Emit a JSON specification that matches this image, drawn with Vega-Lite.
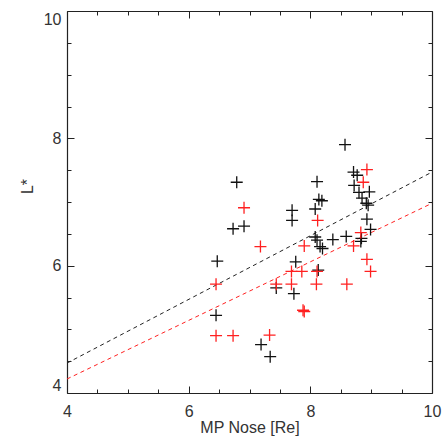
{
  "$schema": "https://vega.github.io/schema/vega-lite/v6.json",
  "autosize": {"type": "none"},
  "padding": {"left": 67, "top": 11, "right": 11, "bottom": 46},
  "width": 365,
  "height": 382,
  "background": "white",
  "config": {
    "view": {"stroke": null},
    "axis": {
      "grid": false,
      "domainColor": "#222",
      "domainWidth": 1.2,
      "tickColor": "#222",
      "tickWidth": 1,
      "labelFont": "Liberation Sans",
      "labelFontSize": 16,
      "labelColor": "#333",
      "titleFont": "Liberation Sans",
      "titleFontSize": 16,
      "titleFontWeight": "normal",
      "titleColor": "#333"
    }
  },
  "datasets": {
    "points": [
      {"nose": 6.79, "L": 7.31, "group": "B"},
      {"nose": 6.91, "L": 6.62, "group": "B"},
      {"nose": 6.73, "L": 6.58, "group": "B"},
      {"nose": 6.47, "L": 6.07, "group": "B"},
      {"nose": 6.45, "L": 5.22, "group": "B"},
      {"nose": 7.19, "L": 4.76, "group": "B"},
      {"nose": 7.34, "L": 4.57, "group": "B"},
      {"nose": 7.44, "L": 5.65, "group": "B"},
      {"nose": 7.73, "L": 5.56, "group": "B"},
      {"nose": 7.76, "L": 6.06, "group": "B"},
      {"nose": 7.70, "L": 6.87, "group": "B"},
      {"nose": 7.70, "L": 6.71, "group": "B"},
      {"nose": 8.11, "L": 7.32, "group": "B"},
      {"nose": 8.14, "L": 7.04, "group": "B"},
      {"nose": 8.19, "L": 7.02, "group": "B"},
      {"nose": 8.08, "L": 6.89, "group": "B"},
      {"nose": 8.08, "L": 6.45, "group": "B"},
      {"nose": 8.11, "L": 6.40, "group": "B"},
      {"nose": 8.16, "L": 6.30, "group": "B"},
      {"nose": 8.20, "L": 6.27, "group": "B"},
      {"nose": 8.13, "L": 5.93, "group": "B"},
      {"nose": 8.37, "L": 6.41, "group": "B"},
      {"nose": 8.59, "L": 6.46, "group": "B"},
      {"nose": 8.57, "L": 7.90, "group": "B"},
      {"nose": 8.71, "L": 7.47, "group": "B"},
      {"nose": 8.77, "L": 7.42, "group": "B"},
      {"nose": 8.72, "L": 7.26, "group": "B"},
      {"nose": 8.80, "L": 7.15, "group": "B"},
      {"nose": 8.97, "L": 7.16, "group": "B"},
      {"nose": 8.85, "L": 7.06, "group": "B"},
      {"nose": 8.92, "L": 6.98, "group": "B"},
      {"nose": 8.95, "L": 6.95, "group": "B"},
      {"nose": 8.93, "L": 6.73, "group": "B"},
      {"nose": 8.99, "L": 6.57, "group": "B"},
      {"nose": 8.84, "L": 6.43, "group": "B"},
      {"nose": 8.83, "L": 6.38, "group": "B"},
      {"nose": 6.91, "L": 6.91, "group": "R"},
      {"nose": 7.18, "L": 6.30, "group": "R"},
      {"nose": 6.45, "L": 5.71, "group": "R"},
      {"nose": 6.45, "L": 4.90, "group": "R"},
      {"nose": 6.73, "L": 4.90, "group": "R"},
      {"nose": 7.33, "L": 4.91, "group": "R"},
      {"nose": 7.44, "L": 5.71, "group": "R"},
      {"nose": 7.69, "L": 5.71, "group": "R"},
      {"nose": 7.69, "L": 5.91, "group": "R"},
      {"nose": 7.86, "L": 5.91, "group": "R"},
      {"nose": 7.88, "L": 5.30, "group": "R"},
      {"nose": 7.90, "L": 5.28, "group": "R"},
      {"nose": 7.90, "L": 6.31, "group": "R"},
      {"nose": 8.12, "L": 6.71, "group": "R"},
      {"nose": 8.11, "L": 5.91, "group": "R"},
      {"nose": 8.10, "L": 5.71, "group": "R"},
      {"nose": 8.60, "L": 5.71, "group": "R"},
      {"nose": 8.71, "L": 6.31, "group": "R"},
      {"nose": 8.83, "L": 6.52, "group": "R"},
      {"nose": 8.93, "L": 6.10, "group": "R"},
      {"nose": 8.99, "L": 5.91, "group": "R"},
      {"nose": 8.93, "L": 7.51, "group": "R"},
      {"nose": 8.87, "L": 7.31, "group": "R"}
    ],
    "lines": [
      {"nose": 4, "L": 4.47, "group": "B"},
      {"nose": 10, "L": 7.47, "group": "B"},
      {"nose": 4, "L": 4.22, "group": "R"},
      {"nose": 10, "L": 6.98, "group": "R"}
    ]
  },
  "layer": [
    {
      "data": {"name": "lines"},
      "transform": [{"filter": "datum.group === 'B'"}],
      "mark": {"type": "line", "color": "#222", "strokeWidth": 1, "strokeDash": [4, 3.5]},
      "encoding": {
        "x": {"field": "nose", "type": "quantitative", "scale": {"domain": [4, 10], "nice": false, "zero": false},
          "axis": {"orient": "bottom", "title": null, "labels": false, "domain": false, "values": [4.5, 5, 5.5, 6.5, 7, 7.5, 8.5, 9, 9.5], "tickSize": -4}},
        "y": {"field": "L", "type": "quantitative", "scale": {"domain": [4, 10], "nice": false, "zero": false},
          "axis": {"orient": "left", "title": null, "labels": false, "domain": false, "values": [4.5, 5, 5.5, 6.5, 7, 7.5, 8.5, 9, 9.5], "tickSize": -4}}
      }
    },
    {
      "data": {"name": "lines"},
      "transform": [{"filter": "datum.group === 'R'"}],
      "mark": {"type": "line", "color": "#ff2020", "strokeWidth": 1, "strokeDash": [4, 3.5]},
      "encoding": {
        "x": {"field": "nose", "type": "quantitative",
          "axis": {"orient": "top", "title": null, "labels": false, "domain": false, "values": [4.5, 5, 5.5, 6.5, 7, 7.5, 8.5, 9, 9.5], "tickSize": -4}},
        "y": {"field": "L", "type": "quantitative",
          "axis": {"orient": "right", "title": null, "labels": false, "domain": false, "values": [4.5, 5, 5.5, 6.5, 7, 7.5, 8.5, 9, 9.5], "tickSize": -4}}
      }
    },
    {
      "data": {"name": "points"},
      "transform": [{"filter": "datum.group === 'B'"}],
      "mark": {"type": "point", "shape": "M-1,0L1,0M0,-1L0,1", "filled": false, "color": "#111", "strokeWidth": 1.3, "size": 144, "opacity": 1},
      "encoding": {
        "x": {"field": "nose", "type": "quantitative",
          "axis": {"orient": "bottom", "title": "MP Nose [Re]", "values": [4, 6, 8, 10], "tickSize": -7, "labelPadding": 17, "titlePadding": 0, "labelFlush": false}},
        "y": {"field": "L", "type": "quantitative",
          "axis": {"orient": "left", "title": "L*", "values": [4, 6, 8, 10], "tickSize": -7, "labelPadding": 13, "titlePadding": 8, "titleY": 175, "labelFlush": true}}
      }
    },
    {
      "data": {"name": "points"},
      "transform": [{"filter": "datum.group === 'R'"}],
      "mark": {"type": "point", "shape": "M-1,0L1,0M0,-1L0,1", "filled": false, "color": "#ff2020", "strokeWidth": 1.3, "size": 144, "opacity": 1},
      "encoding": {
        "x": {"field": "nose", "type": "quantitative",
          "axis": {"orient": "top", "title": null, "labels": false, "values": [4, 6, 8, 10], "tickSize": -7}},
        "y": {"field": "L", "type": "quantitative",
          "axis": {"orient": "right", "title": null, "labels": false, "values": [4, 6, 8, 10], "tickSize": -7}}
      }
    }
  ],
  "resolve": {"axis": {"x": "independent", "y": "independent"}}
}
